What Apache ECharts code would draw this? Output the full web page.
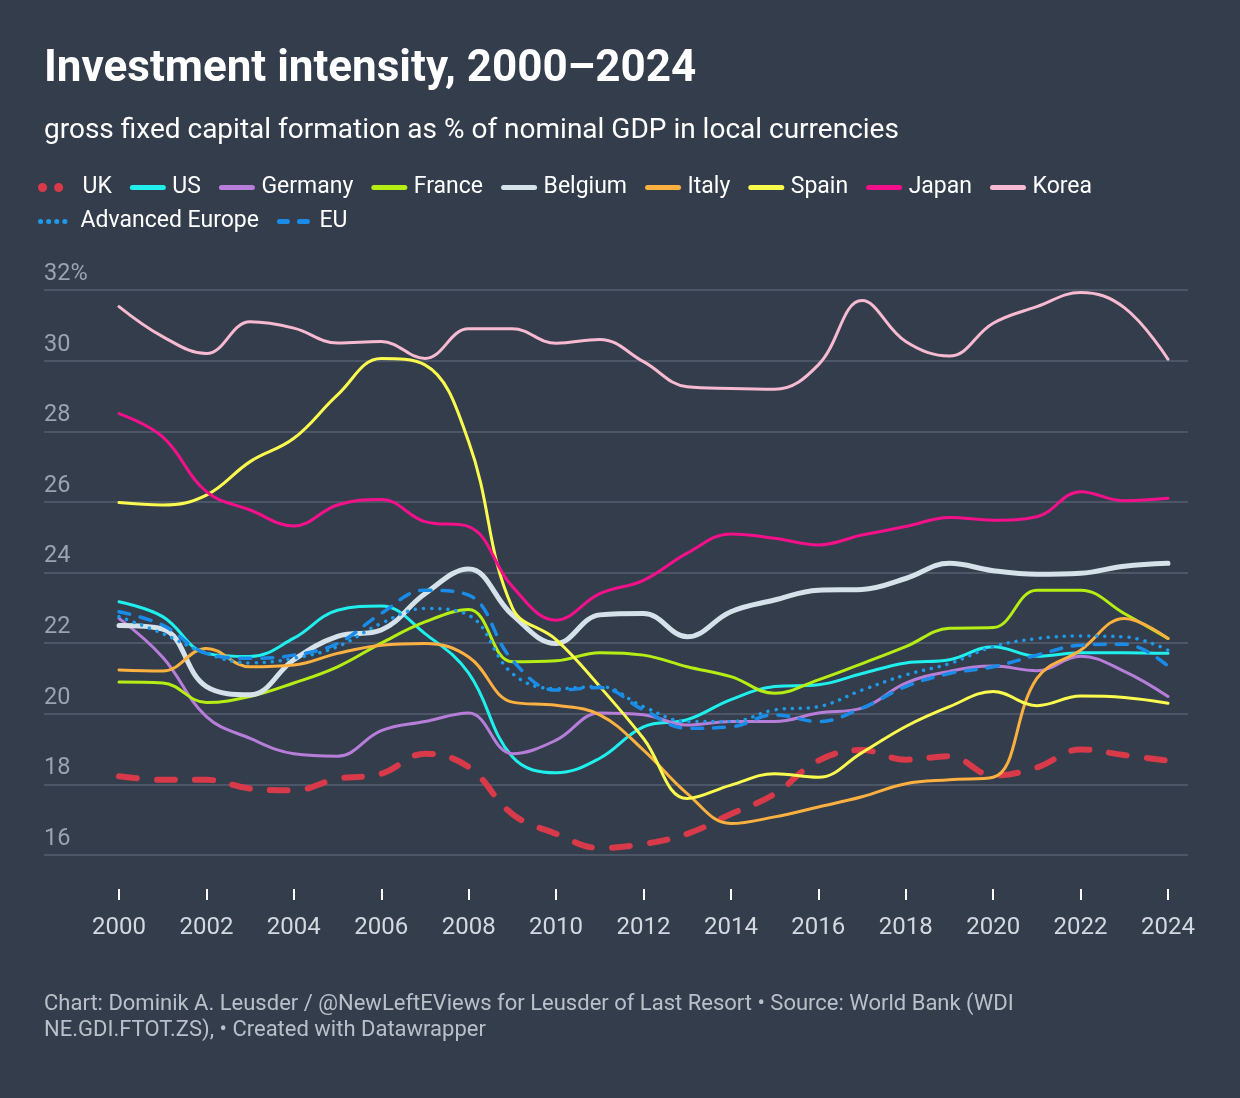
<!DOCTYPE html>
<html>
<head>
<meta charset="utf-8">
<script src="https://cdn.jsdelivr.net/npm/echarts@6/dist/echarts.min.js"></script>
<style>
  html, body { margin: 0; padding: 0; background: #333d4c; }
  #chart { width: 1240px; height: 1098px; }
</style>
</head>
<body>
<div id="chart"></div>
<script>
const years = [2000,2001,2002,2003,2004,2005,2006,2007,2008,2009,2010,2011,2012,2013,2014,2015,2016,2017,2018,2019,2020,2021,2022,2023,2024];

const uk = [18.23,18.13,18.13,17.88,17.83,18.16,18.3,18.87,18.49,17.16,16.6,16.2,16.31,16.6,17.16,17.73,18.67,18.97,18.7,18.8,18.25,18.48,18.99,18.83,18.67];
const us = [23.17,22.75,21.71,21.62,22.14,22.93,23.05,22.27,21.15,18.78,18.33,18.74,19.63,19.83,20.4,20.77,20.82,21.14,21.44,21.53,21.9,21.63,21.73,21.73,21.71];
const germany = [22.7,21.6,19.92,19.3,18.87,18.8,19.52,19.78,20.02,18.87,19.25,20.02,19.97,19.68,19.78,19.78,20.02,20.16,20.87,21.2,21.35,21.22,21.63,21.2,20.49];
const france = [20.9,20.87,20.32,20.49,20.87,21.33,22.0,22.6,22.95,21.47,21.5,21.73,21.66,21.33,21.05,20.58,20.96,21.42,21.9,22.42,22.44,23.5,23.5,22.84,22.13];
const belgium = [22.5,22.4,20.77,20.54,21.53,22.19,22.37,23.4,24.1,22.8,21.99,22.8,22.84,22.18,22.89,23.22,23.5,23.52,23.83,24.26,24.05,23.95,23.98,24.18,24.26];
const italy = [21.24,21.21,21.85,21.33,21.38,21.71,21.94,21.99,21.61,20.33,20.24,19.97,18.97,17.74,16.89,17.08,17.36,17.65,18.02,18.13,18.2,21.0,21.8,22.7,22.13];
const spain = [25.98,25.91,26.19,27.14,27.8,29.03,30.06,29.88,27.7,23.0,22.1,20.77,19.3,17.6,17.98,18.3,18.2,18.9,19.64,20.2,20.63,20.23,20.5,20.46,20.3];
const japan = [28.5,27.84,26.29,25.77,25.32,25.91,26.07,25.44,25.3,23.6,22.65,23.4,23.78,24.55,25.09,24.97,24.78,25.06,25.3,25.56,25.48,25.58,26.29,26.03,26.1];
const korea = [31.53,30.68,30.2,31.1,30.92,30.5,30.54,30.06,30.9,30.9,30.49,30.6,29.97,29.26,29.21,29.19,29.88,31.7,30.54,30.13,31.06,31.53,31.93,31.5,30.04];
const advEurope = [22.75,22.27,21.71,21.44,21.57,21.9,22.56,22.98,22.79,21.14,20.71,20.77,20.2,19.78,19.78,20.11,20.2,20.67,21.1,21.42,21.9,22.13,22.2,22.18,21.8];
const eu = [22.89,22.51,21.71,21.57,21.66,21.99,22.84,23.5,23.36,21.52,20.67,20.74,20.11,19.59,19.63,19.97,19.78,20.16,20.77,21.14,21.33,21.66,21.94,21.97,21.35];

const yTicks = [16, 18, 20, 22, 24, 26, 28, 30, 32];

const font = 'Roboto, "Noto Sans", sans-serif';

// name, values, colour, width, dash, legend dash
const lines = [
  ['UK', uk, '#d93a49', 6, [18, 20], [0.1, 16]],
  ['US', us, '#1ff0ee', 3, null, null],
  ['Germany', germany, '#b77ed9', 3, null, null],
  ['France', france, '#b6ee13', 3, null, null],
  ['Belgium', belgium, '#d6e2e9', 5, null, null],
  ['Italy', italy, '#fbb03f', 3, null, null],
  ['Spain', spain, '#fbfb4e', 3, null, null],
  ['Japan', japan, '#f4108a', 3, null, null],
  ['Korea', korea, '#f7bad0', 3, null, null],
  ['Advanced Europe', advEurope, '#1d9bea', 3.5, [0.1, 8], [0.1, 8]],
  ['EU', eu, '#1a8ce8', 3.5, [11, 11], [8, 12]]
];

let myChart = echarts.init(document.getElementById('chart'));

let series = lines.map(function (l) {
  return {
    name: l[0],
    type: 'line',
    xAxisIndex: 0,
    yAxisIndex: 0,
    data: years.map(function (y, i) { return [y, l[1][i]]; }),
    smooth: 0.4,
    symbol: 'none',
    clip: false,
    lineStyle: {
      color: l[2],
      width: l[3],
      type: l[4] || 'solid',
      cap: 'round'
    },
    itemStyle: { color: l[2] },
    emphasis: { disabled: true }
  };
});

function legendItem(l) {
  return {
    name: l[0],
    lineStyle: {
      color: l[2],
      width: l[0] === 'UK' ? 9 : 5,
      type: l[5] || 'solid',
      cap: 'round'
    }
  };
}

let legendBase = {
  left: 38, padding: 0,
  itemWidth: 31, itemHeight: 8, itemGap: 18,
  itemStyle: { opacity: 0 },
  textStyle: { color: '#ffffff', fontSize: 23, fontFamily: font, padding: [0, 0, 0, 4] },
  selectedMode: false
};

let options = {
  backgroundColor: '#333d4c',
  animation: false,
  textStyle: { fontFamily: font },
  title: [{
    text: 'Investment intensity, 2000\u20132024',
    left: 44, top: 48, padding: 0,
    textStyle: { color: '#ffffff', fontSize: 44, fontWeight: 'bold', fontFamily: font }
  }, {
    text: 'gross fixed capital formation as % of nominal GDP in local currencies',
    left: 44, top: 117, padding: 0,
    textStyle: { color: '#ffffff', fontSize: 28, fontWeight: 'normal', fontFamily: font }
  }, {
    text: 'Chart: Dominik A. Leusder / @NewLeftEViews for Leusder of Last Resort \u2022 Source: World Bank (WDI\nNE.GDI.FTOT.ZS), \u2022 Created with Datawrapper',
    left: 44, top: 991, padding: 0,
    textStyle: { color: '#b9c0c9', fontSize: 22, fontWeight: 'normal', lineHeight: 26, fontFamily: font }
  }],
  legend: [
    Object.assign({}, legendBase, { top: 176, data: lines.slice(0, 9).map(legendItem) }),
    Object.assign({}, legendBase, { top: 210, data: lines.slice(9).map(legendItem) })
  ],
  grid: [
    { left: 119, right: 72, top: 290, bottom: 243 },
    { left: 44, right: 52, top: 290, bottom: 243 }
  ],
  xAxis: [{
    gridIndex: 0,
    type: 'value',
    min: 2000, max: 2024, interval: 2,
    offset: 34,
    axisLine: { show: false },
    axisTick: { show: true, length: 11, lineStyle: { color: '#ffffff', width: 2 } },
    axisLabel: { color: '#d3d9e0', fontSize: 24, margin: 27, fontFamily: font, formatter: function (v) { return String(v); } },
    splitLine: { show: false }
  }, {
    gridIndex: 1,
    type: 'value',
    show: false,
    min: 0, max: 1
  }],
  yAxis: [{
    gridIndex: 0,
    type: 'value',
    min: yTicks[0], max: yTicks[yTicks.length - 1], interval: 2,
    show: false
  }, {
    gridIndex: 1,
    type: 'value',
    min: yTicks[0], max: yTicks[yTicks.length - 1], interval: 2,
    axisLine: { show: false },
    axisTick: { show: false },
    axisLabel: {
      inside: true, margin: 0, color: '#9aa3ae', fontSize: 23.5, fontFamily: font,
      verticalAlign: 'bottom', padding: [0, 0, 4, 0],
      formatter: function (v) { return v === 32 ? '32%' : String(v); }
    },
    splitLine: { lineStyle: { color: '#4c5666', width: 2 } }
  }],
  series: series
};

myChart.setOption(options);
</script>
</body>
</html>
